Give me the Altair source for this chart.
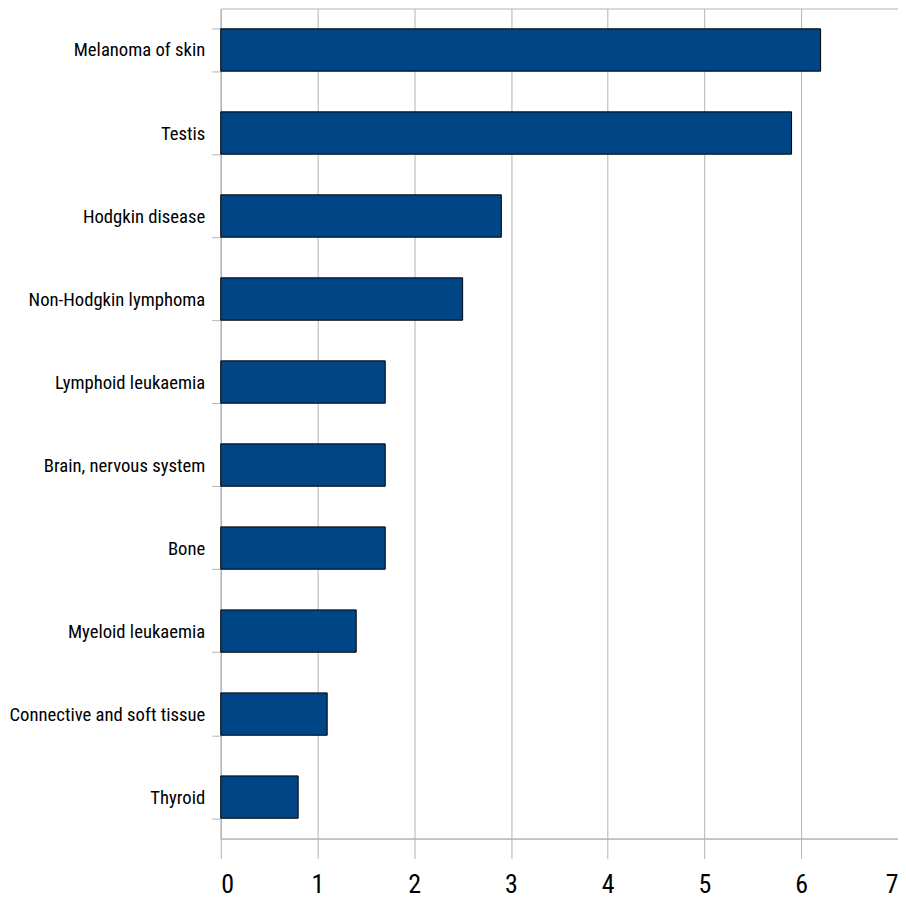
import altair as alt
import pandas as pd

categories = [
    "Melanoma of skin",
    "Testis",
    "Hodgkin disease",
    "Non-Hodgkin lymphoma",
    "Lymphoid leukaemia",
    "Brain, nervous system",
    "Bone",
    "Myeloid leukaemia",
    "Connective and soft tissue",
    "Thyroid",
]
values = [6.2, 5.9, 2.9, 2.5, 1.7, 1.7, 1.7, 1.4, 1.1, 0.8]
x_ticks = [0, 1, 2, 3, 4, 5, 6, 7]

df = pd.DataFrame({"category": categories, "value": values})

GRID = "#b3b3b3"
FONT = "Roboto Condensed, Liberation Sans, Arial"

chart = (
    alt.Chart(df)
    .mark_bar(color="#004586", stroke="#000000", strokeWidth=1)
    .encode(
        x=alt.X(
            "value:Q",
            scale=alt.Scale(domain=[0, 7], nice=False, zero=True),
            axis=alt.Axis(
                values=x_ticks,
                title=None,
                grid=True,
                gridColor=GRID,
                gridWidth=1,
                domainColor=GRID,
                tickColor=GRID,
                tickSize=20,
                labelPadding=13,
                labelFontSize=26,
                labelFont=FONT,
                labelFontWeight="normal",
                labelColor="#000000",
                format="d",
            ),
        ),
        y=alt.Y(
            "category:N",
            sort=categories,
            scale=alt.Scale(paddingInner=0.49, paddingOuter=0.245),
            axis=alt.Axis(
                title=None,
                grid=False,
                tickBand="extent",
                domainColor=GRID,
                tickColor=GRID,
                tickSize=9,
                labelPadding=7,
                labelFontSize=18.7,
                labelLimit=0,
                labelFont=FONT,
                labelFontWeight="normal",
                labelColor="#000000",
            ),
        ),
    )
    .properties(
        width=678,
        height=831,
        autosize=alt.AutoSizeParams(type="none"),
        padding={"left": 213, "top": 0, "right": 0, "bottom": 61},
    )
    .configure_view(stroke=GRID, strokeWidth=1)
)

chart.save("out.html", embed_options={"renderer": "svg", "actions": False})
